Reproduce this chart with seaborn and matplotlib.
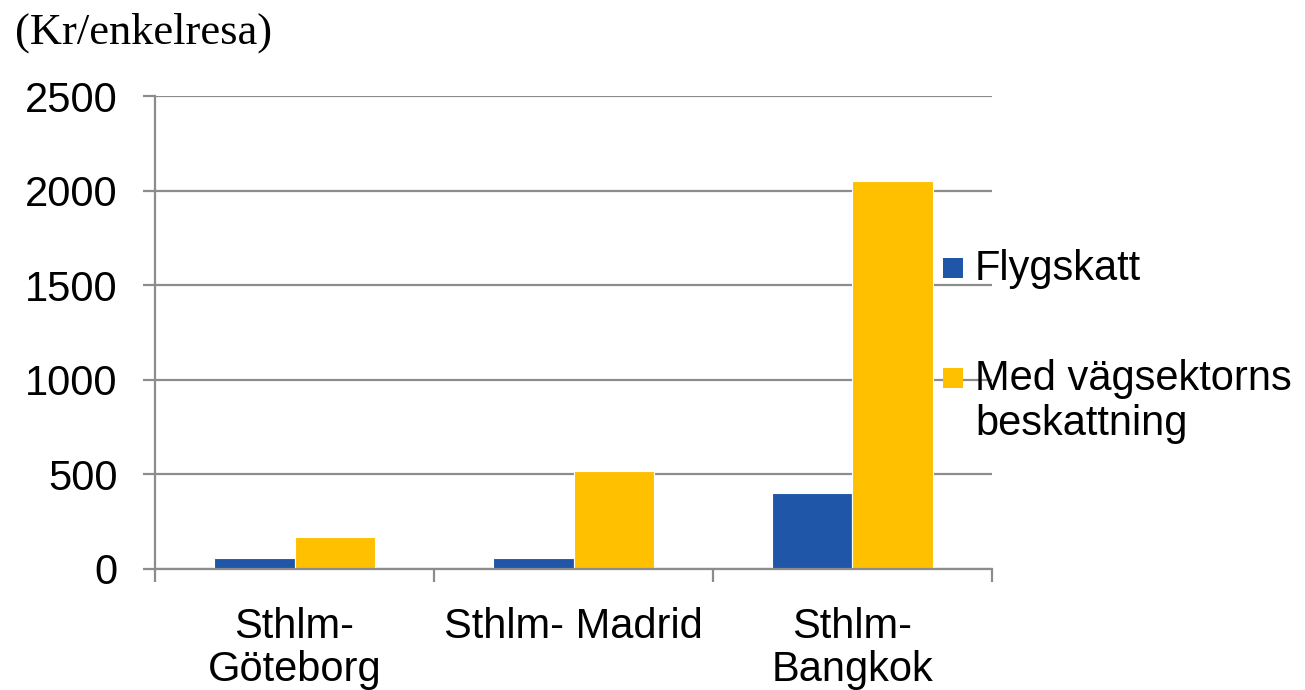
import matplotlib
matplotlib.use("Agg")
import matplotlib.pyplot as plt
from matplotlib.patches import Rectangle
import pandas as pd
import seaborn as sns

# Data
routes = ["Sthlm-\nGöteborg", "Sthlm- Madrid", "Sthlm-\nBangkok"]
series = ["Flygskatt", "Med vägsektorns\nbeskattning"]
flygskatt = [60, 58, 400]
vagsektor = [168, 520, 2050]
yticks = [0, 500, 1000, 1500, 2000, 2500]

colors = ["#1F56A8", "#FFC000"]
grey = "#8C8C8C"

df = pd.DataFrame({
    "route": routes * 2,
    "series": [series[0]] * 3 + [series[1]] * 3,
    "value": flygskatt + vagsektor,
})

sns.set_style("white")
plt.rcParams["font.family"] = ["Liberation Sans", "DejaVu Sans"]
plt.rcParams["text.color"] = "black"
plt.rcParams["xtick.color"] = "black"
plt.rcParams["ytick.color"] = "black"

fig = plt.figure(figsize=(13.05, 6.9), dpi=100)
ax = fig.add_axes([155 / 1305, 1 - 569 / 690, (992 - 155) / 1305, (569 - 96) / 690])

sns.barplot(data=df, x="route", y="value", hue="series", order=routes,
            hue_order=series, palette=colors, width=0.574, saturation=1,
            edgecolor="white", linewidth=0.8, legend=False, ax=ax)

ax.set_xlim(-0.5, 2.5)
ax.set_ylim(0, 2500)
ax.set_yticks(yticks)
ax.set_xlabel("")
ax.set_ylabel("")

# Horizontal gridlines
ax.yaxis.grid(True, color=grey, linewidth=1.6)
ax.xaxis.grid(False)
ax.set_axisbelow(True)

for side in ["top", "right"]:
    ax.spines[side].set_visible(False)
for side in ["left", "bottom"]:
    ax.spines[side].set_color(grey)
    ax.spines[side].set_linewidth(1.6)

# Category separators as minor ticks on the x axis
ax.set_xticks([-0.5, 0.5, 1.5, 2.5], minor=True)
ax.tick_params(axis="x", which="minor", bottom=True, length=9, width=1.6,
               color=grey, direction="out")
ax.tick_params(axis="x", which="major", bottom=True, length=0, pad=27,
               labelsize=30, labelcolor="black")
ax.tick_params(axis="y", which="major", left=True, length=9, width=1.6,
               color=grey, direction="out", pad=18, labelsize=30,
               labelcolor="black")
for lbl in ax.get_xticklabels():
    lbl.set_linespacing(1.12)

# Unit label above the axis
fig.text(15 / 1305, 1 - 33 / 690, "(Kr/enkelresa)", fontsize=32,
         family=["Liberation Serif", "DejaVu Serif"], va="center", ha="left",
         color="black")

# Legend drawn to the right of the plot
def legend_entry(y_px, color, text):
    fig.add_artist(Rectangle((943 / 1305, 1 - (y_px + 10) / 690), 20 / 1305,
                             20 / 690, transform=fig.transFigure,
                             facecolor=color, edgecolor="none"))
    fig.text(975 / 1305, 1 - (y_px - 19) / 690, text, fontsize=30,
             va="top", ha="left", linespacing=1.15, color="black")

legend_entry(268, colors[0], series[0])
legend_entry(378, colors[1], series[1])

fig.savefig("out.png", dpi=100)
